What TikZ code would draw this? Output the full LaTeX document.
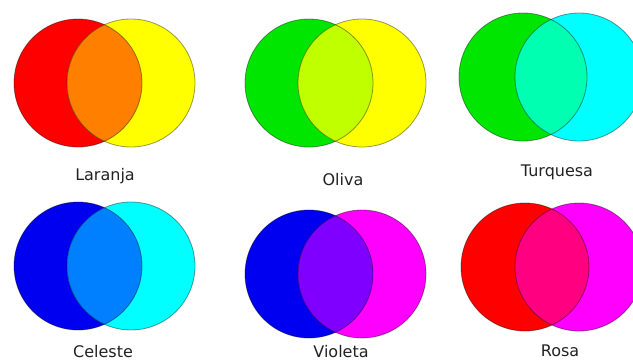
\documentclass[tikz,border=0pt]{standalone}
\usepackage{fontspec}
\setsansfont{DejaVu Sans}
\usepackage{tikz}
\usepackage{xcolor}
\usetikzlibrary{positioning}
\definecolor{Red}{HTML}{FF0000}
\definecolor{Yellow}{HTML}{FFFF00}
\definecolor{Green}{HTML}{00E600}
\definecolor{Cyan}{HTML}{00FFFF}
\definecolor{Blue}{HTML}{0000F0}
\definecolor{Magenta}{HTML}{FF00FF}
\definecolor{Orange}{HTML}{FF8000}
\definecolor{Lime}{HTML}{BFFF00}
\definecolor{Mint}{HTML}{00FFB0}
\definecolor{Azure}{HTML}{0080FF}
\definecolor{Purple}{HTML}{8000FF}
\definecolor{Pink}{HTML}{FF0080}
\definecolor{Ink}{HTML}{222222}
\tikzset{
  disc/.style={draw=black,draw opacity=0.4,line width=0.8pt},
  tag/.style={anchor=base,text=Ink,inner sep=1pt,
    font=\sffamily\fontsize{16}{16}\selectfont}
}

\begin{document}
\begin{tikzpicture}[x=1pt,y=-1pt]
  \useasboundingbox (0,0) rectangle (633,362);
  \clip (0,0) rectangle (633,362);
  \foreach \cx/\cy/\d/\cl/\cr/\cm/\lx/\ly/\txt in {
      78/83/53/Red/Yellow/Orange/105/180/Laranja,
      309/83/53/Green/Yellow/Lime/343/185/Oliva,
      523/77/56/Green/Cyan/Mint/557/176/Turquesa,
      78/266/53/Blue/Cyan/Azure/103/357/Celeste,
      309/274/53/Blue/Magenta/Purple/341/357/Violeta,
      525/267/54/Red/Magenta/Pink/560/356/Rosa}
  {
    \fill[\cl] (\cx,\cy) circle[radius=64];
    \fill[\cr] (\cx+\d,\cy) circle[radius=64];
    \begin{scope}
      \clip (\cx,\cy) circle[radius=64];
      \fill[\cm] (\cx+\d,\cy) circle[radius=64];
    \end{scope}
    \draw[disc] (\cx,\cy) circle[radius=64];
    \draw[disc] (\cx+\d,\cy) circle[radius=64];
    \node[tag] (\txt) at (\lx,\ly) {\txt};
  }
\end{tikzpicture}
\end{document}
